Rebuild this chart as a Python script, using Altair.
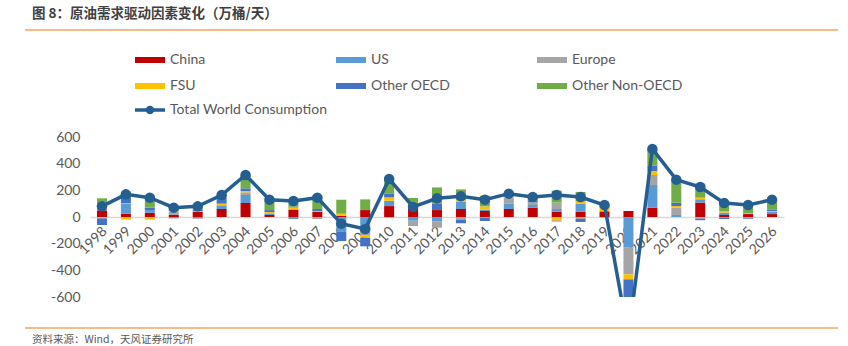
import altair as alt
import pandas as pd

years = ["1998", "1999", "2000", "2001", "2002", "2003", "2004", "2005", "2006", "2007",
         "2008", "2009", "2010", "2011", "2012", "2013", "2014", "2015", "2016", "2017",
         "2018", "2019", "2020", "2021", "2022", "2023", "2024", "2025", "2026"]
series = ["China", "US", "Europe", "FSU", "Other OECD", "Other Non-OECD"]
colors = ["#C00000", "#5B9BD5", "#A5A5A5", "#FFC000", "#4472C4", "#70AD47"]

china =   [50, 25, 32, 15, 40, 60, 105, 15, 55, 40, 10, 52, 82, 65, 52, 60, 45, 60, 70, 40, 40, 40, 45, 70, 0, 108, 15, 22, 22]
us =      [15, 75, 20, -10, -10, 25, 60, 12, -15, 0, -105, -90, 40, -28, -35, 55, 10, 42, 20, 20, 58, 5, -230, 170, 15, 25, 18, 5, 18]
europe =  [5, 5, 0, 25, -5, 5, 20, 0, 5, -15, -5, -45, -5, -40, -45, -22, -5, 45, 20, 48, -15, -5, -200, 75, 57, -12, -5, -8, 3]
fsu =     [-10, -20, -20, 5, 5, 10, 10, 10, 12, 5, 15, -20, 25, 5, 0, 12, 25, 5, 0, -28, 18, 25, -38, 30, 10, 12, 12, 3, 2]
oecd =    [-50, 45, 18, 5, 10, 45, 20, 15, 5, 15, -70, -65, 30, 10, 50, -25, -25, 5, 15, -5, -22, 0, -170, 40, 25, -12, -10, -5, 12]
nonoecd = [70, 40, 90, 30, 40, 20, 100, 80, 58, 100, 105, 80, 113, 63, 120, 80, 80, 18, 25, 90, 72, 25, -300, 118, 175, 105, 75, 73, 73]
total =   [80, 170, 145, 70, 80, 165, 315, 130, 120, 145, -50, -90, 285, 75, 140, 155, 130, 175, 150, 165, 150, 90, -900, 510, 280, 225, 105, 90, 130]
y_ticks = [-600, -400, -200, 0, 200, 400, 600]

title_text = "图 8：原油需求驱动因素变化（万桶/天）"
source_text = "资料来源：Wind，天风证券研究所"
total_name = "Total World Consumption"

LINE_COLOR = "#255E91"
ORANGE = "#F4A460"
GREY = "#595959"
FONT = "Lato"
CJK = "Noto Sans CJK SC"

values = [china, us, europe, fsu, oecd, nonoecd]
rows = []
for i, name in enumerate(series):
    for y, v in zip(years, values[i]):
        rows.append({"year": y, "series": name, "idx": i, "value": v})
bars_df = pd.DataFrame(rows)
total_df = pd.DataFrame({"year": years, "total": total})

L, T, R, B = 90, 137, 64, 49
W, H = 848 - L - R, 346 - T - B

x_axis = alt.Axis(title=None, labelAngle=-45, labelAlign="right", labelBaseline="top",
                  labelPadding=7, labelOffset=-2, labelFontSize=14, labelColor=GREY, labelFont=FONT,
                  ticks=False, domainColor="#D9D9D9", domainWidth=1.5,
                  offset=-H / 2, labelOverlap=False)
y_axis = alt.Axis(title=None, values=y_ticks,
                  labelExpr="datum.value", grid=False, ticks=False, domain=False,
                  labelOverlap=False, labelFontSize=14, labelColor=GREY,
                  labelFont=FONT, labelPadding=10)
x_scale = alt.Scale(paddingInner=0, paddingOuter=0)
y_scale = alt.Scale(domain=[-600, 600], nice=False, zero=False)

bars = alt.Chart(bars_df).mark_bar(size=10, clip=True).encode(
    x=alt.X("year:N", sort=years, scale=x_scale, axis=x_axis),
    y=alt.Y("value:Q", stack="zero", scale=y_scale, axis=y_axis),
    color=alt.Color("series:N", scale=alt.Scale(domain=series, range=colors),
                    legend=alt.Legend(title=None, orient="none", legendX=45, legendY=-92,
                                      direction="horizontal",
                                      columns=3, columnPadding=55, rowPadding=4,
                                      gridAlign="all",
                                      symbolType="M-1,-0.2H1V0.2H-1Z", symbolSize=900,
                                      symbolStrokeWidth=0,
                                      labelFontSize=14, labelColor=GREY, labelFont=FONT,
                                      labelOffset=5)),
    order=alt.Order("idx:Q", sort="ascending"),
)

line = alt.Chart(total_df).mark_line(color=LINE_COLOR, strokeWidth=3.5, clip=True).encode(
    x=alt.X("year:N", sort=years, scale=x_scale, axis=x_axis),
    y=alt.Y("total:Q", scale=y_scale, axis=y_axis))
pts = alt.Chart(total_df).mark_circle(color=LINE_COLOR, size=110, opacity=1, clip=True).encode(
    x=alt.X("year:N", sort=years, scale=x_scale, axis=x_axis),
    y=alt.Y("total:Q", scale=y_scale, axis=y_axis))

one = pd.DataFrame({"t": [total_name]})
leg_rule = alt.Chart(one).mark_rule(color=LINE_COLOR, strokeWidth=3.5).encode(
    x=alt.value(135 - L), x2=alt.value(165 - L), y=alt.value(110 - T))
leg_pt = alt.Chart(one).mark_circle(color=LINE_COLOR, size=70, opacity=1).encode(
    x=alt.value(150 - L), y=alt.value(110 - T))
leg_txt = alt.Chart(one).mark_text(align="left", baseline="middle", fontSize=14, color=GREY, font=FONT).encode(
    x=alt.value(170 - L), y=alt.value(110 - T), text="t:N")

title = alt.Chart(pd.DataFrame({"t": [title_text]})).mark_text(
    align="left", baseline="middle", fontSize=13.5, fontWeight="bold", color="#404040", font=CJK).encode(
    x=alt.value(32 - L), y=alt.value(14 - T), text="t:N")
source = alt.Chart(pd.DataFrame({"t": [source_text]})).mark_text(
    align="left", baseline="middle", fontSize=10.5, color=GREY, font=CJK).encode(
    x=alt.value(32 - L), y=alt.value(340 - T), text="t:N")
top_rule = alt.Chart(one).mark_rule(color=ORANGE, strokeWidth=1.5).encode(
    x=alt.value(25 - L), x2=alt.value(838 - L), y=alt.value(30 - T))
bot_rule = alt.Chart(one).mark_rule(color=ORANGE, strokeWidth=1.5).encode(
    x=alt.value(25 - L), x2=alt.value(838 - L), y=alt.value(328 - T))

chart = alt.layer(bars, line, pts, leg_rule, leg_pt, leg_txt, title, source, top_rule, bot_rule).properties(
    width=W, height=H,
    autosize=alt.AutoSizeParams(type="none"),
    padding={"left": L, "top": T, "right": R, "bottom": B},
    background="white",
).configure_view(stroke=None).configure_axis(labelOverlap=False)

chart.save("out.html", embed_options={"renderer": "svg", "actions": False})
